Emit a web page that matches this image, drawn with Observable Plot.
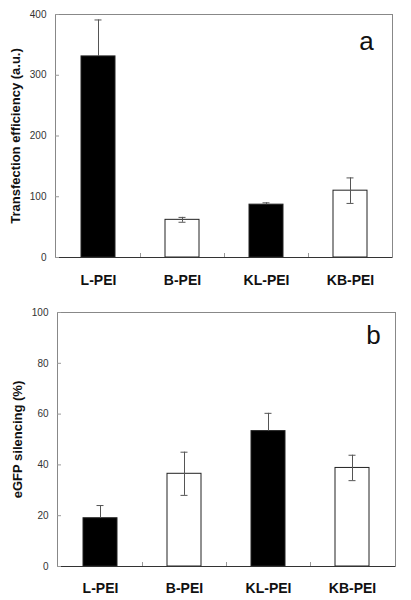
<!DOCTYPE html>
<html>
<head>
<meta charset="utf-8">
<script src="https://cdn.jsdelivr.net/npm/d3@7"></script>
<script src="https://cdn.jsdelivr.net/npm/@observablehq/plot@0.6"></script>
<style>
  html, body { margin: 0; padding: 0; background: #fff; }
  #chart svg { display: block; }
</style>
</head>
<body>
<div id="chart"></div>
<script>
const categories = ["L-PEI", "B-PEI", "KL-PEI", "KB-PEI"];
const barFill = ["black", "white", "black", "white"];

// Panel a: transfection efficiency (a.u.)
const transfection = [331, 62, 87, 110];
const transfectionErr = [60, 4, 3, 21];
const ticksA = [0, 100, 200, 300, 400];

// Panel b: eGFP silencing (%)
const silencing = [19, 36.5, 53.3, 38.8];
const silencingErr = [5, 8.5, 7, 5];
const ticksB = [0, 20, 40, 60, 80, 100];

const font = "'Liberation Sans', Arial, sans-serif";

function panel({values, errs, yDomain, yTicks, yLabel, letter, margins, letterDx, letterDy, catPad}) {
  const rows = categories.map((c, i) => ({
    cat: c, v: values[i],
    // the lower half of the error bar is hidden behind an opaque black bar
    lo: barFill[i] === "black" ? values[i] : values[i] - errs[i],
    hi: values[i] + errs[i], fill: barFill[i]
  }));
  const lowerCaps = rows.filter(d => d.fill === "white");
  return Plot.plot({
    width: 411,
    height: 300,
    ...margins,
    style: {fontFamily: font, background: "white"},
    x: {domain: categories, padding: 0.6, paddingOuter: 0.3, axis: null},
    y: {domain: yDomain, axis: null},
    marks: [
      Plot.frame({stroke: "#888", strokeWidth: 1}),
      Plot.barY(rows, {x: "cat", y: "v", fill: "fill", stroke: "#222", strokeWidth: 1}),
      Plot.ruleX(rows, {x: "cat", y1: "lo", y2: "hi", stroke: "#555", strokeWidth: 1}),
      Plot.tickY(lowerCaps, {x: "cat", y: "lo", stroke: "#555", insetLeft: 13.5, insetRight: 13.5}),
      Plot.tickY(rows, {x: "cat", y: "hi", stroke: "#555", insetLeft: 13.5, insetRight: 13.5}),
      Plot.ruleY([0], {stroke: "#333"}),
      Plot.axisY({ticks: yTicks, tickSize: 0, tickPadding: 9, fontSize: 10, fill: "#333", label: null, tickFormat: d => String(d)}),
      Plot.axisY({ticks: yTicks, tickSize: -4, text: null, stroke: "#999", label: null}),
      Plot.axisX({ticks: categories.slice(0, 3), tickSize: -4, text: null, dx: 42, stroke: "#999", label: null}),
      Plot.axisX({tickSize: 0, tickPadding: catPad, fontSize: 14, fontWeight: "bold", fill: "#111", label: null}),
      Plot.text([yLabel], {frameAnchor: "left", textAnchor: "middle", lineAnchor: "middle", rotate: -90, dx: -40, fontSize: 13, fontWeight: "bold", fill: "#111", text: d => d}),
      Plot.text([letter], {frameAnchor: "top-right", textAnchor: "middle", dx: letterDx, dy: letterDy, lineAnchor: "bottom", fontSize: 26, fill: "#111", text: d => d})
    ]
  });
}

const chart = document.getElementById("chart");
chart.appendChild(panel({
  values: transfection, errs: transfectionErr, yDomain: [0, 400], yTicks: ticksA,
  yLabel: "Transfection efficiency (a.u.)", letter: "a",
  margins: {marginLeft: 55, marginRight: 19, marginTop: 14, marginBottom: 43},
  letterDx: -26, letterDy: 35, catPad: 18
}));
chart.appendChild(panel({
  values: silencing, errs: silencingErr, yDomain: [0, 100], yTicks: ticksB,
  yLabel: "eGFP silencing (%)", letter: "b",
  margins: {marginLeft: 57, marginRight: 16, marginTop: 12, marginBottom: 34},
  letterDx: -22, letterDy: 31, catPad: 17
}));
</script>
</body>
</html>
